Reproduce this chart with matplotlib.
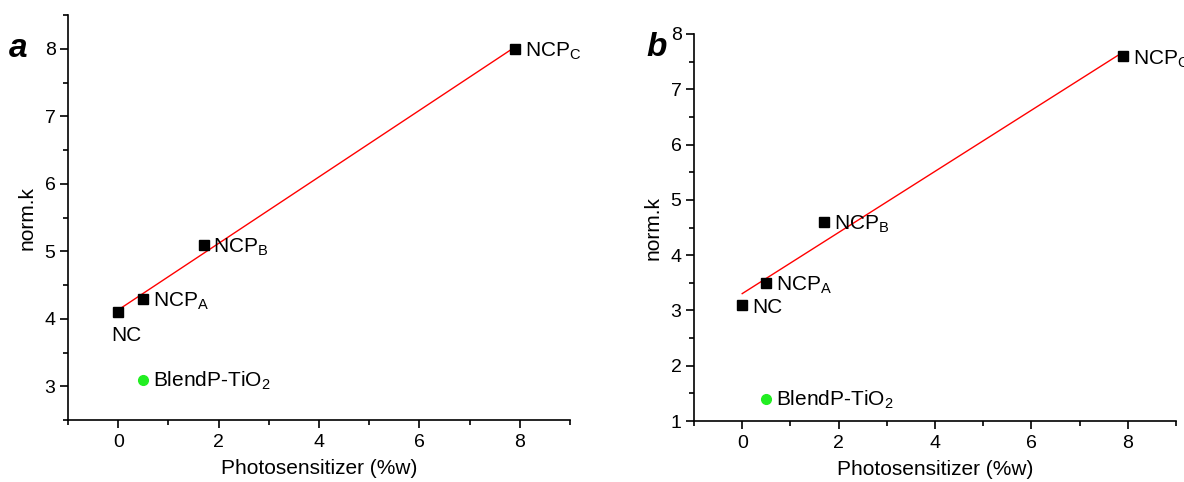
import numpy as np
import matplotlib
matplotlib.use('Agg')
import matplotlib.pyplot as plt
from matplotlib.ticker import MultipleLocator

plt.rcParams['font.family'] = ['Liberation Sans', 'DejaVu Sans']
plt.rcParams['mathtext.fontset'] = 'custom'
plt.rcParams['mathtext.rm'] = 'Liberation Sans'
plt.rcParams['mathtext.it'] = 'Liberation Sans:italic'

# sample names and photosensitizer content (%w)
names = ['NC', r'NCP$_\mathrm{A}$', r'NCP$_\mathrm{B}$', r'NCP$_\mathrm{C}$']
conc = [0, 0.5, 1.7, 7.9]
blend_name = r'BlendP-TiO$_\mathrm{2}$'
blend_conc = 0.5

# normalised rate constants, panel a and panel b
k_a = [4.1, 4.3, 5.1, 8.0]
k_b = [3.1, 3.5, 4.6, 7.6]
blend_a = 3.1
blend_b = 1.4

fig = plt.figure(figsize=(11.84, 4.82), dpi=100)
W, H = 1184, 482
ax_a = fig.add_axes([68 / W, 1 - 420 / H, 502 / W, 405 / H])
ax_b = fig.add_axes([694 / W, 1 - 421 / H, 482 / W, 387 / H])


def draw_panel(ax, k, blend_k, ylim, letter, letter_pos, nc_below):
    x = np.array(conc)
    y = np.array(k)
    slope, icpt = np.polyfit(x, y, 1)
    xx = np.array([x.min(), x.max()])
    ax.plot(xx, slope * xx + icpt, color='red', lw=1, zorder=2)
    ax.plot(x, y, 's', color='black', ms=6.5, zorder=3)
    ax.plot([blend_conc], [blend_k], 'o', color='#22ee22', ms=7, zorder=3)

    for i, (xi, yi, nm) in enumerate(zip(conc, k, names)):
        if i == 0 and nc_below:
            ax.annotate(nm, (xi, yi), xytext=(6, -17), textcoords='offset points',
                        ha='center', va='center', fontsize=15)
        else:
            ax.annotate(nm, (xi, yi), xytext=(7, -2), textcoords='offset points',
                        ha='left', va='center', fontsize=15)
    ax.annotate(blend_name, (blend_conc, blend_k), xytext=(7, -1), textcoords='offset points',
                ha='left', va='center', fontsize=15)

    ax.set_xlim(-1, 9)
    ax.set_ylim(*ylim)
    ax.xaxis.set_major_locator(MultipleLocator(2))
    ax.xaxis.set_minor_locator(MultipleLocator(1))
    ax.yaxis.set_major_locator(MultipleLocator(1))
    ax.yaxis.set_minor_locator(MultipleLocator(0.5))
    ax.tick_params(which='major', direction='out', length=6, width=1.2, labelsize=14)
    ax.tick_params(which='minor', direction='out', length=3.5, width=1.2)
    ax.tick_params(axis='x', pad=4)
    ax.tick_params(axis='y', pad=3)
    for s in ['top', 'right']:
        ax.spines[s].set_visible(False)
    for s in ['left', 'bottom']:
        ax.spines[s].set_linewidth(1.2)
    ax.set_xlabel('Photosensitizer (%w)', fontsize=15, labelpad=6)
    ax.set_ylabel('norm.k', fontsize=15, labelpad=6)
    ax.text(letter_pos[0], letter_pos[1], letter, transform=ax.transAxes, fontsize=24,
            fontweight='bold', fontstyle='italic', ha='center', va='center')


draw_panel(ax_a, k_a, blend_a, (2.5, 8.5), 'a', (-0.10, 0.918), True)
draw_panel(ax_b, k_b, blend_b, (1, 8), 'b', (-0.077, 0.964), False)

fig.savefig('out.png', dpi=100)
